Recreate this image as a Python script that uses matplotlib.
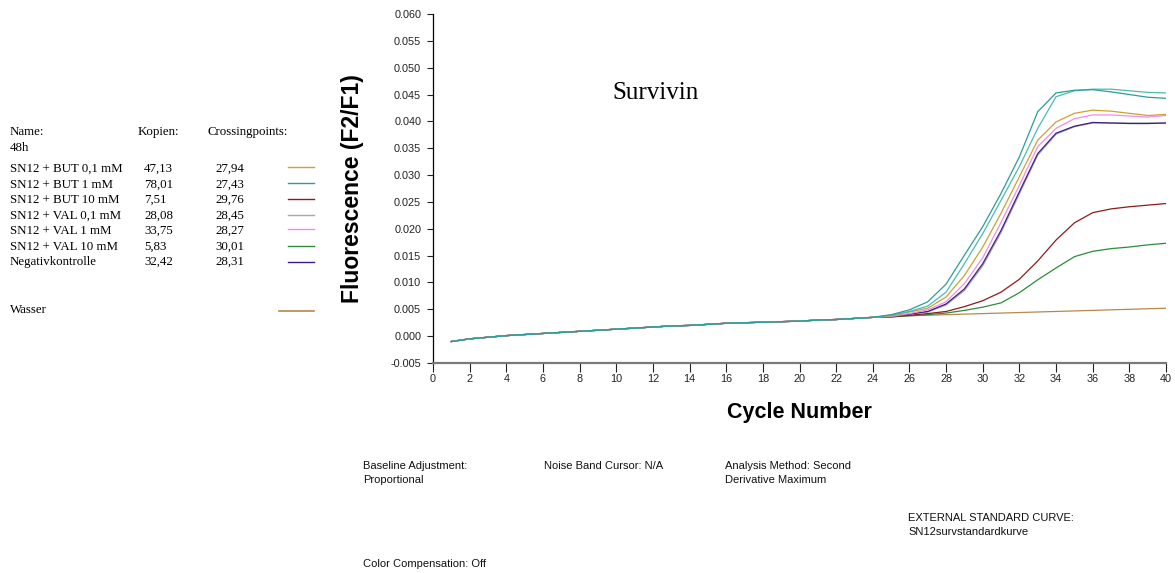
import matplotlib
matplotlib.use('Agg')
import matplotlib.pyplot as plt
from matplotlib.lines import Line2D

W, H = 1175, 573

# cycles 1..40
cycles = list(range(1, 41))

# common baseline, cycles 1-24 (all curves lie on top of each other here)
baseline = [-0.0010, -0.0005, -0.0002, 0.0001, 0.0003, 0.0005, 0.0007, 0.0009,
            0.0011, 0.0013, 0.0015, 0.0017, 0.0019, 0.0020, 0.0022, 0.0024,
            0.0025, 0.0026, 0.0027, 0.0028, 0.0030, 0.0031, 0.0033, 0.0035]

# cycles 25-40 per sample
but_01 = [0.0038, 0.0045, 0.0052, 0.0073, 0.0113, 0.0166, 0.0229, 0.0297,
          0.0365, 0.0399, 0.0415, 0.0421, 0.0419, 0.0415, 0.0411, 0.0413]
but_1_a = [0.0040, 0.0049, 0.0064, 0.0097, 0.0151, 0.0204, 0.0266, 0.0334,
           0.0418, 0.0453, 0.0458, 0.0459, 0.0455, 0.0450, 0.0445, 0.0443]
but_1_b = [0.0039, 0.0046, 0.0056, 0.0082, 0.0135, 0.0191, 0.0253, 0.0316,
           0.0387, 0.0446, 0.0457, 0.0460, 0.0460, 0.0457, 0.0454, 0.0453]
but_10 = [0.0036, 0.0039, 0.0042, 0.0046, 0.0055, 0.0066, 0.0082, 0.0106,
          0.0140, 0.0179, 0.0211, 0.0230, 0.0237, 0.0241, 0.0244, 0.0247]
val_01 = [0.0037, 0.0041, 0.0045, 0.0058, 0.0085, 0.0131, 0.0193, 0.0265,
          0.0337, 0.0376, 0.0390, 0.0397, 0.0397, 0.0397, 0.0397, 0.0397]
val_1 = [0.0037, 0.0042, 0.0049, 0.0064, 0.0098, 0.0146, 0.0212, 0.0281,
         0.0353, 0.0387, 0.0405, 0.0412, 0.0412, 0.0410, 0.0408, 0.0411]
val_10 = [0.0036, 0.0038, 0.0040, 0.0043, 0.0048, 0.0054, 0.0062, 0.0081,
          0.0105, 0.0127, 0.0148, 0.0158, 0.0163, 0.0166, 0.0170, 0.0173]
negativ = [0.0037, 0.0041, 0.0046, 0.0060, 0.0088, 0.0135, 0.0197, 0.0269,
           0.0340, 0.0378, 0.0391, 0.0398, 0.0397, 0.0396, 0.0396, 0.0397]
wasser = [0.0036, 0.0038, 0.0039, 0.0040, 0.0041, 0.0042, 0.0043, 0.0044,
          0.0045, 0.0046, 0.0047, 0.0048, 0.0049, 0.0050, 0.0051, 0.0052]

names = ['SN12 + BUT 0,1 mM', 'SN12 + BUT 1 mM', 'SN12 + BUT 10 mM',
         'SN12 + VAL 0,1 mM', 'SN12 + VAL 1 mM', 'SN12 + VAL 10 mM',
         'Negativkontrolle']
kopien = ['47,13', '78,01', '7,51', '28,08', '33,75', '5,83', '32,42']
crossing = ['27,94', '27,43', '29,76', '28,45', '28,27', '30,01', '28,31']
colors = ['#d0a030', '#2a9d98', '#8b1c1c', '#a8a8a8', '#f08cf0', '#2e8b3a', '#3a1e8c']
wasser_color = '#b8884c'
teal_light = '#4dbab2'

serif = 'Liberation Serif'
sans = 'Liberation Sans'
fs_tab = 9.3

fig = plt.figure(figsize=(W / 100, H / 100), dpi=100)
ax = fig.add_axes([433 / W, 1 - 363 / H, (1166 - 433) / W, (363 - 14) / H])


def px(x, y):
    return x / W, 1 - y / H


# curves
series = [(wasser, wasser_color), (val_10, colors[5]), (but_10, colors[2]),
          (val_01, colors[3]), (negativ, colors[6]), (val_1, colors[4]),
          (but_01, colors[0]), (but_1_b, teal_light), (but_1_a, colors[1])]
for tail, c in series:
    ax.plot(cycles, baseline + tail, color=c, lw=0.9)

ax.set_xlim(0, 40)
ax.set_ylim(-0.005, 0.060)
ax.set_xticks(range(0, 41, 2))
ax.set_yticks([i * 0.005 - 0.005 for i in range(14)])
ax.set_yticklabels(['%.3f' % (i * 0.005 - 0.005) for i in range(14)])
for lab in ax.get_xticklabels() + ax.get_yticklabels():
    lab.set_family(sans)
    lab.set_fontsize(7.8)
    lab.set_color('#222222')
ax.tick_params(axis='x', length=6.5, width=0.8, pad=1.5, color='#222222')
ax.tick_params(axis='y', length=4, width=0.8, pad=4.5, color='#222222')

ax.spines['top'].set_visible(False)
ax.spines['right'].set_visible(False)
ax.spines['left'].set_linewidth(0.9)
ax.spines['bottom'].set_color('#7a7a7a')
ax.spines['bottom'].set_linewidth(1.6)

ax.set_xlabel('Cycle Number', family=sans, fontweight='bold', fontsize=15.5, labelpad=13)
ax.set_ylabel('Fluorescence (F2/F1)', family=sans, fontweight='bold', fontsize=16.5, labelpad=19)

fig.text(*px(612, 99), 'Survivin', family=serif, fontsize=18, va='baseline')

# left table / legend
fig.text(*px(10, 135), 'Name:', family=serif, fontsize=fs_tab, va='baseline')
fig.text(*px(138, 135), 'Kopien:', family=serif, fontsize=fs_tab, va='baseline')
fig.text(*px(207, 135), 'Crossingpoints:', family=serif, fontsize=fs_tab, va='baseline')
fig.text(*px(10, 151), '48h', family=serif, fontsize=fs_tab, va='baseline')

row_y = [172, 188, 203, 219, 234, 250, 265]
line_y = [167, 183, 199, 215, 229, 246, 262]
for i in range(len(names)):
    fig.text(*px(10, row_y[i]), names[i], family=serif, fontsize=fs_tab, va='baseline')
    fig.text(*px(144, row_y[i]), kopien[i], family=serif, fontsize=fs_tab, va='baseline')
    fig.text(*px(215, row_y[i]), crossing[i], family=serif, fontsize=fs_tab, va='baseline')
    x0, y0 = px(288, line_y[i])
    x1, _ = px(314, line_y[i])
    fig.add_artist(Line2D([x0, x1], [y0, y0], color=colors[i], lw=1.0, transform=fig.transFigure))

fig.text(*px(10, 313), 'Wasser', family=serif, fontsize=fs_tab, va='baseline')
x0, y0 = px(279, 311)
x1, _ = px(314, 311)
fig.add_artist(Line2D([x0, x1], [y0, y0], color=wasser_color, lw=1.2, transform=fig.transFigure))

# footer notes
small = dict(family=sans, fontsize=8, va='baseline', color='#111111')
fig.text(*px(363, 469), 'Baseline Adjustment:', **small)
fig.text(*px(363, 483), 'Proportional', **small)
fig.text(*px(544, 469), 'Noise Band Cursor: N/A', **small)
fig.text(*px(725, 469), 'Analysis Method: Second', **small)
fig.text(*px(725, 483), 'Derivative Maximum', **small)
fig.text(*px(908, 521), 'EXTERNAL STANDARD CURVE:', **small)
fig.text(*px(908, 535), 'SN12survstandardkurve', **small)
fig.text(*px(363, 567), 'Color Compensation: Off', **small)

fig.savefig('out.png', dpi=100)
